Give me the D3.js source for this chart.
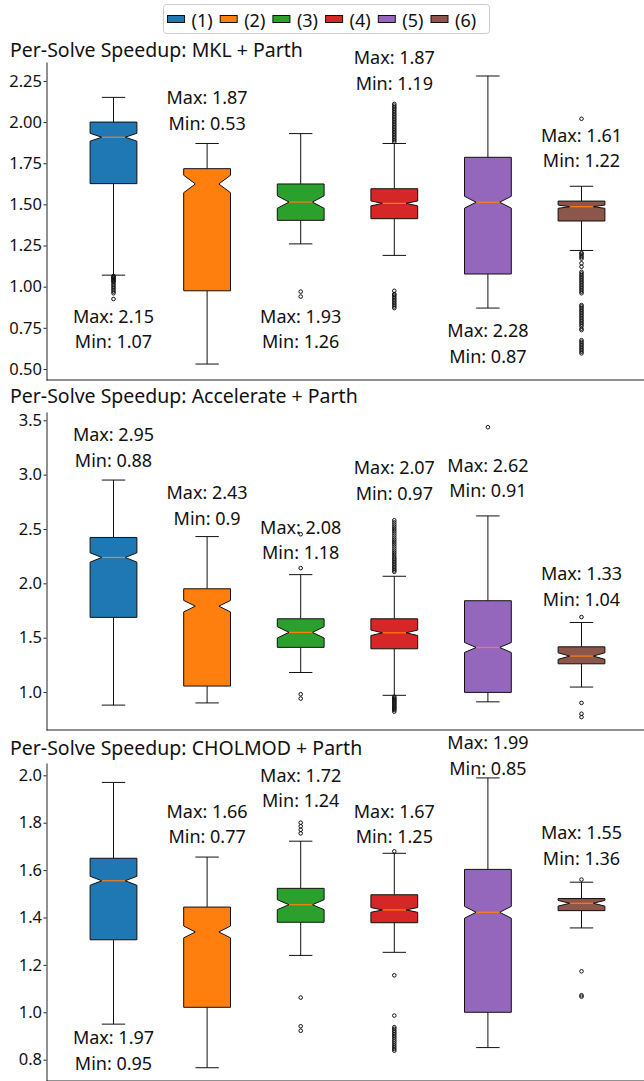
<!DOCTYPE html>
<html>
<head>
<meta charset="utf-8">
<script src="https://cdn.jsdelivr.net/npm/d3@7"></script>
<style>
  body { margin: 0; background: #fff; }
  svg text { font-family: "Noto Sans", "DejaVu Sans", sans-serif; fill: #111; }
</style>
</head>
<body>
<div id="chart"></div>
<script>
const W = 644, H = 1081;

// ---- data ----
const categories = ["(1)", "(2)", "(3)", "(4)", "(5)", "(6)"];
const colors = ["#1f77b4", "#ff7f0e", "#2ca02c", "#d62728", "#9467bd", "#8c564b"];

const panelTitles = [
  "Per-Solve Speedup: MKL + Parth",
  "Per-Solve Speedup: Accelerate + Parth",
  "Per-Solve Speedup: CHOLMOD + Parth"
];
const tickValues = [
  [0.50, 0.75, 1.00, 1.25, 1.50, 1.75, 2.00, 2.25],
  [1.0, 1.5, 2.0, 2.5, 3.0, 3.5],
  [0.8, 1.0, 1.2, 1.4, 1.6, 1.8, 2.0]
];
const tickFormats = [".2f", ".1f", ".1f"];
const yDomains = [[0.433, 2.365], [0.651, 3.576], [0.71, 2.052]];

// MKL + Parth
const mklQ1 = [1.626, 0.975, 1.403, 1.413, 1.077, 1.399];
const mklMed = [1.908, 1.624, 1.514, 1.506, 1.513, 1.486];
const mklQ3 = [2.000, 1.717, 1.624, 1.595, 1.786, 1.520];
const mklCiLo = [1.884, 1.571, 1.476, 1.491, 1.477, 1.476];
const mklCiHi = [1.932, 1.677, 1.552, 1.521, 1.549, 1.496];
const mklLo = [1.07, 0.53, 1.26, 1.19, 0.87, 1.22];
const mklHi = [2.15, 1.87, 1.93, 1.87, 2.28, 1.61];
const mklOut = [
  [1.065, 1.06, 1.055, 1.05, 1.045, 1.04, 1.035, 1.03, 1.02, 1.01, 1.0, 0.99, 0.98, 0.97, 0.96, 0.925],
  [],
  [0.97, 0.94],
  [1.88, 1.89, 1.9, 1.91, 1.92, 1.93, 1.94, 1.95, 1.96, 1.97, 1.98, 1.99, 2.0, 2.01, 2.02, 2.03, 2.04, 2.05, 2.06, 2.07, 2.08, 2.09, 2.1, 2.11,
   0.975, 0.955, 0.95, 0.94, 0.93, 0.92, 0.91, 0.9, 0.89, 0.88, 0.87],
  [],
  [2.02, 1.206, 1.2, 1.19, 1.18, 1.17, 1.142, 1.121, 1.09, 1.08, 1.07, 1.06, 1.05, 1.04, 1.03, 1.02, 1.01, 1.0, 0.99, 0.98, 0.97, 0.96,
   0.888, 0.88, 0.87, 0.86, 0.85, 0.84, 0.83, 0.82, 0.81, 0.8, 0.79, 0.78, 0.77, 0.76, 0.745, 0.736,
   0.675, 0.665, 0.655, 0.645, 0.635, 0.625, 0.615, 0.605, 0.595]
];
const mklMaxText = [2.15, 1.87, 1.93, 1.87, 2.28, 1.61];
const mklMinText = [1.07, 0.53, 1.26, 1.19, 0.87, 1.22];
const mklLabelAt = [0.625, 1.952, 0.625, 2.195, 0.539, 1.725];

// Accelerate + Parth
const accQ1 = [1.687, 1.055, 1.411, 1.398, 0.997, 1.26];
const accMed = [2.238, 1.79, 1.549, 1.545, 1.41, 1.331];
const accQ3 = [2.422, 1.95, 1.674, 1.674, 1.84, 1.416];
const accCiLo = [2.195, 1.737, 1.497, 1.52, 1.364, 1.301];
const accCiHi = [2.281, 1.843, 1.601, 1.57, 1.456, 1.361];
const accLo = [0.88, 0.90, 1.18, 0.97, 0.91, 1.046];
const accHi = [2.95, 2.43, 2.08, 2.065, 2.62, 1.64];
const accOut = [
  [],
  [],
  [2.452, 2.14, 0.98, 0.94],
  [2.106, 2.12, 2.135, 2.15, 2.165, 2.18, 2.195, 2.21, 2.225, 2.24, 2.26, 2.28, 2.3, 2.32, 2.34, 2.36, 2.38, 2.4, 2.42, 2.44, 2.46, 2.48, 2.5, 2.52, 2.54, 2.56, 2.58,
   0.957, 0.945, 0.935, 0.925, 0.915, 0.905, 0.895, 0.885, 0.875, 0.865, 0.855, 0.845, 0.835, 0.82],
  [3.436],
  [1.69, 0.90, 0.80, 0.77]
];
const accMaxText = [2.95, 2.43, 2.08, 2.07, 2.62, 1.33];
const accMinText = [0.88, 0.9, 1.18, 0.97, 0.91, 1.04];
const accLabelAt = [3.071, 2.535, 2.22, 2.765, 2.79, 1.793];

// CHOLMOD + Parth
const choQ1 = [1.306, 1.021, 1.38, 1.378, 1.0, 1.429];
const choMed = [1.555, 1.339, 1.454, 1.432, 1.422, 1.46];
const choQ3 = [1.65, 1.444, 1.523, 1.496, 1.603, 1.48];
const choCiLo = [1.536, 1.314, 1.433, 1.422, 1.397, 1.448];
const choCiHi = [1.574, 1.364, 1.475, 1.442, 1.447, 1.472];
const choLo = [0.95, 0.766, 1.24, 1.253, 0.851, 1.356];
const choHi = [1.97, 1.655, 1.722, 1.671, 1.989, 1.549];
const choOut = [
  [],
  [],
  [1.80, 1.785, 1.77, 1.755, 1.062, 0.941, 0.922],
  [1.679, 1.156, 0.986, 0.937, 0.93, 0.922, 0.915, 0.908, 0.9, 0.893, 0.885, 0.877, 0.869, 0.861, 0.853, 0.845, 0.838],
  [],
  [1.56, 1.173, 1.072, 1.066]
];
const choMaxText = [1.97, 1.66, 1.72, 1.67, 1.99, 1.55];
const choMinText = [0.95, 0.77, 1.24, 1.25, 0.85, 1.36];
const choLabelAt = [0.757, 1.713, 1.865, 1.713, 2.001, 1.622];

const panels = [
  { q1: mklQ1, med: mklMed, q3: mklQ3, ciLo: mklCiLo, ciHi: mklCiHi, lo: mklLo, hi: mklHi, out: mklOut, maxT: mklMaxText, minT: mklMinText, labelAt: mklLabelAt },
  { q1: accQ1, med: accMed, q3: accQ3, ciLo: accCiLo, ciHi: accCiHi, lo: accLo, hi: accHi, out: accOut, maxT: accMaxText, minT: accMinText, labelAt: accLabelAt },
  { q1: choQ1, med: choMed, q3: choQ3, ciLo: choCiLo, ciHi: choCiHi, lo: choLo, hi: choHi, out: choOut, maxT: choMaxText, minT: choMinText, labelAt: choLabelAt }
];

// ---- layout ----
const left = 46.5;
const panelTop = [62, 412, 763];
const titleBase = [57, 402.5, 754.5];
const panelH = 318;
const boxW = 0.5;

const svg = d3.select("#chart").append("svg")
  .attr("width", W)
  .attr("height", H);

const x = d3.scaleLinear().domain([1, 6]).range([113.5, 581.5]);

panels.forEach((p, pi) => {
  const top = panelTop[pi];
  const y = d3.scaleLinear().domain(yDomains[pi]).range([top + panelH, top]);
  const g = svg.append("g");

  // title
  svg.append("text")
    .attr("x", 10)
    .attr("y", titleBase[pi])
    .style("font-size", "19.5px")
    .text(panelTitles[pi]);

  // y axis
  const axis = d3.axisLeft(y)
    .tickValues(tickValues[pi])
    .tickFormat(d3.format(tickFormats[pi]))
    .tickSize(3)
    .tickPadding(1.5)
    .tickSizeOuter(0);
  const ag = g.append("g")
    .attr("transform", `translate(${left},0)`)
    .call(axis);
  ag.select(".domain").attr("stroke", "#222");
  ag.selectAll(".tick line").attr("stroke", "#222");
  ag.selectAll(".tick text")
    .style("font-size", "16.5px")
    .style("font-family", "'Noto Sans', sans-serif")
    .attr("fill", "#111");

  // bottom spine
  g.append("line")
    .attr("x1", left).attr("x2", W + 2)
    .attr("y1", top + panelH).attr("y2", top + panelH)
    .attr("stroke", "#222").attr("stroke-width", 1);

  categories.forEach((c, i) => {
    const pos = i + 1;
    const L = x(pos - boxW / 2), R = x(pos + boxW / 2);
    const nL = x(pos - boxW / 4), nR = x(pos + boxW / 4);
    const cL = x(pos - boxW / 4), cR = x(pos + boxW / 4);
    const cx = x(pos);

    // whiskers
    [[p.q1[i], p.lo[i]], [p.q3[i], p.hi[i]]].forEach(([a, b]) => {
      g.append("line")
        .attr("x1", cx).attr("x2", cx)
        .attr("y1", y(a)).attr("y2", y(b))
        .attr("stroke", "#111").attr("stroke-width", 1);
      g.append("line")
        .attr("x1", cL).attr("x2", cR)
        .attr("y1", y(b)).attr("y2", y(b))
        .attr("stroke", "#111").attr("stroke-width", 1);
    });

    // notched box
    const pts = [
      [L, p.q1[i]], [R, p.q1[i]], [R, p.ciLo[i]], [nR, p.med[i]], [R, p.ciHi[i]],
      [R, p.q3[i]], [L, p.q3[i]], [L, p.ciHi[i]], [nL, p.med[i]], [L, p.ciLo[i]], [L, p.q1[i]]
    ];
    g.append("path")
      .attr("d", d3.line().x(d => d[0]).y(d => y(d[1]))(pts) + "Z")
      .attr("fill", colors[i])
      .attr("stroke", "#111")
      .attr("stroke-width", 1);

    // median
    g.append("line")
      .attr("x1", nL).attr("x2", nR)
      .attr("y1", y(p.med[i])).attr("y2", y(p.med[i]))
      .attr("stroke", "#ff7f0e").attr("stroke-width", 1.2);

    // fliers
    g.selectAll(null)
      .data(p.out[i])
      .enter()
      .append("circle")
      .attr("cx", cx)
      .attr("cy", d => y(d))
      .attr("r", 1.8)
      .attr("fill", "none")
      .attr("stroke", "#111")
      .attr("stroke-width", 1);

    // annotation
    const ly = y(p.labelAt[i]);
    g.append("text")
      .attr("x", cx).attr("y", ly - 25.7)
      .attr("text-anchor", "middle")
      .style("font-size", "18px")
      .text(`Max: ${p.maxT[i]}`);
    g.append("text")
      .attr("x", cx).attr("y", ly)
      .attr("text-anchor", "middle")
      .style("font-size", "18px")
      .text(`Min: ${p.minT[i]}`);
  });
});

// ---- legend ----
const legend = svg.append("g");
legend.append("rect")
  .attr("x", 163.5).attr("y", 4.5)
  .attr("width", 326).attr("height", 29)
  .attr("rx", 3)
  .attr("fill", "#fff")
  .attr("stroke", "#ccc");

categories.forEach((c, i) => {
  const gx = 167.5 + i * 52.7;
  legend.append("rect")
    .attr("x", gx).attr("y", 15.5)
    .attr("width", 17).attr("height", 7)
    .attr("fill", colors[i])
    .attr("stroke", "#111")
    .attr("stroke-width", 1);
  legend.append("text")
    .attr("x", gx + 24).attr("y", 26.5)
    .style("font-size", "18px")
    .text(c);
});
</script>
</body>
</html>
